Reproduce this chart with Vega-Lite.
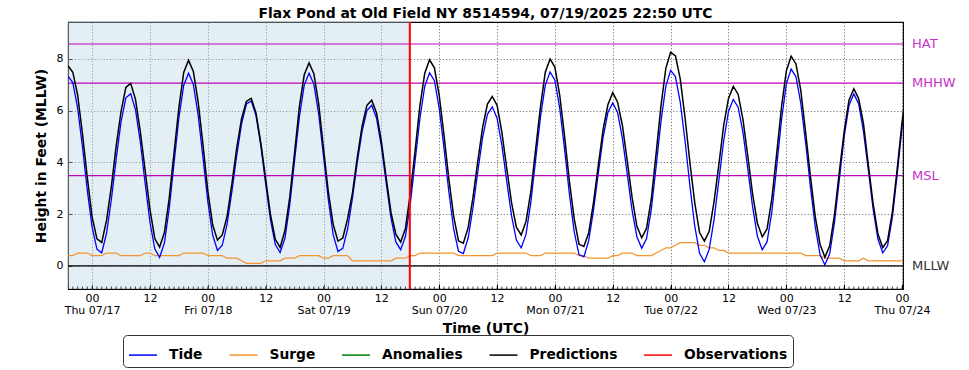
{
  "$schema": "https://vega.github.io/schema/vega-lite/v6.json",
  "width": 835,
  "height": 267,
  "autosize": {"type": "none"},
  "padding": {"left": 68, "top": 22, "right": 66, "bottom": 81},
  "background": "white",
  "title": {"text": "Flax Pond at Old Field NY 8514594, 07/19/2025 22:50 UTC", "font": "DejaVu Sans", "fontSize": 13.9, "fontWeight": "bold", "color": "black", "anchor": "middle", "offset": 0.5},
  "config": {
    "font": "DejaVu Sans",
    "view": {"stroke": "black", "strokeWidth": 1.1},
    "axis": {"domain": false, "labelFont": "DejaVu Sans", "labelFontSize": 11, "labelColor": "black", "titleFont": "DejaVu Sans", "titleFontSize": 13.9, "titleFontWeight": "bold", "titleColor": "black", "tickColor": "black", "tickWidth": 1, "gridColor": "#555555", "gridDash": [1.2, 2], "gridWidth": 0.8}
  },
  "datasets": {
    "series": [
      {"h":-5,"tide":7.34,"surge":0.4,"pred":7.74},
      {"h":-4,"tide":7.09,"surge":0.4,"pred":7.49},
      {"h":-3,"tide":6.10,"surge":0.5,"pred":6.60},
      {"h":-2,"tide":4.61,"surge":0.5,"pred":5.11},
      {"h":-1,"tide":2.93,"surge":0.5,"pred":3.43},
      {"h":0,"tide":1.50,"surge":0.4,"pred":1.90},
      {"h":1,"tide":0.65,"surge":0.4,"pred":1.05},
      {"h":2,"tide":0.51,"surge":0.4,"pred":0.91},
      {"h":3,"tide":1.27,"surge":0.5,"pred":1.77},
      {"h":4,"tide":2.58,"surge":0.5,"pred":3.08},
      {"h":5,"tide":4.15,"surge":0.5,"pred":4.65},
      {"h":6,"tide":5.57,"surge":0.4,"pred":5.97},
      {"h":7,"tide":6.50,"surge":0.4,"pred":6.90},
      {"h":8,"tide":6.66,"surge":0.4,"pred":7.06},
      {"h":9,"tide":6.04,"surge":0.4,"pred":6.44},
      {"h":10,"tide":4.79,"surge":0.4,"pred":5.19},
      {"h":11,"tide":3.20,"surge":0.5,"pred":3.70},
      {"h":12,"tide":1.69,"surge":0.5,"pred":2.19},
      {"h":13,"tide":0.66,"surge":0.4,"pred":1.06},
      {"h":14,"tide":0.33,"surge":0.4,"pred":0.73},
      {"h":15,"tide":0.89,"surge":0.4,"pred":1.29},
      {"h":16,"tide":2.22,"surge":0.4,"pred":2.62},
      {"h":17,"tide":3.98,"surge":0.4,"pred":4.38},
      {"h":18,"tide":5.72,"surge":0.4,"pred":6.12},
      {"h":19,"tide":6.98,"surge":0.5,"pred":7.48},
      {"h":20,"tide":7.45,"surge":0.5,"pred":7.95},
      {"h":21,"tide":7.02,"surge":0.5,"pred":7.52},
      {"h":22,"tide":5.83,"surge":0.5,"pred":6.33},
      {"h":23,"tide":4.19,"surge":0.5,"pred":4.69},
      {"h":24,"tide":2.50,"surge":0.4,"pred":2.90},
      {"h":25,"tide":1.20,"surge":0.4,"pred":1.60},
      {"h":26,"tide":0.60,"surge":0.4,"pred":1.00},
      {"h":27,"tide":0.80,"surge":0.4,"pred":1.20},
      {"h":28,"tide":1.62,"surge":0.3,"pred":1.92},
      {"h":29,"tide":2.88,"surge":0.3,"pred":3.18},
      {"h":30,"tide":4.27,"surge":0.3,"pred":4.57},
      {"h":31,"tide":5.49,"surge":0.2,"pred":5.69},
      {"h":32,"tide":6.26,"surge":0.1,"pred":6.36},
      {"h":33,"tide":6.38,"surge":0.1,"pred":6.48},
      {"h":34,"tide":5.81,"surge":0.1,"pred":5.91},
      {"h":35,"tide":4.65,"surge":0.1,"pred":4.75},
      {"h":36,"tide":3.17,"surge":0.2,"pred":3.37},
      {"h":37,"tide":1.78,"surge":0.2,"pred":1.98},
      {"h":38,"tide":0.83,"surge":0.2,"pred":1.03},
      {"h":39,"tide":0.52,"surge":0.2,"pred":0.72},
      {"h":40,"tide":1.07,"surge":0.3,"pred":1.37},
      {"h":41,"tide":2.36,"surge":0.3,"pred":2.66},
      {"h":42,"tide":4.08,"surge":0.3,"pred":4.38},
      {"h":43,"tide":5.77,"surge":0.4,"pred":6.17},
      {"h":44,"tide":6.99,"surge":0.4,"pred":7.39},
      {"h":45,"tide":7.45,"surge":0.4,"pred":7.85},
      {"h":46,"tide":7.03,"surge":0.4,"pred":7.43},
      {"h":47,"tide":5.87,"surge":0.4,"pred":6.27},
      {"h":48,"tide":4.24,"surge":0.3,"pred":4.54},
      {"h":49,"tide":2.56,"surge":0.3,"pred":2.86},
      {"h":50,"tide":1.21,"surge":0.4,"pred":1.61},
      {"h":51,"tide":0.56,"surge":0.4,"pred":0.96},
      {"h":52,"tide":0.68,"surge":0.4,"pred":1.08},
      {"h":53,"tide":1.43,"surge":0.4,"pred":1.83},
      {"h":54,"tide":2.62,"surge":0.2,"pred":2.82},
      {"h":55,"tide":3.99,"surge":0.2,"pred":4.19},
      {"h":56,"tide":5.20,"surge":0.2,"pred":5.40},
      {"h":57,"tide":6.01,"surge":0.2,"pred":6.21},
      {"h":58,"tide":6.21,"surge":0.2,"pred":6.41},
      {"h":59,"tide":5.71,"surge":0.2,"pred":5.91},
      {"h":60,"tide":4.62,"surge":0.2,"pred":4.82},
      {"h":61,"tide":3.21,"surge":0.2,"pred":3.41},
      {"h":62,"tide":1.86,"surge":0.2,"pred":2.06},
      {"h":63,"tide":0.93,"surge":0.3,"pred":1.23},
      {"h":64,"tide":0.63,"surge":0.3,"pred":0.93},
      {"h":65,"tide":1.15,"surge":0.3,"pred":1.45},
      {"h":66,"tide":2.40,"surge":0.4,"pred":2.80},
      {"h":67,"tide":4.06,"surge":0.4,"pred":4.46},
      {"h":68,"tide":5.71,"surge":0.5,"pred":6.21},
      {"h":69,"tide":6.95,"surge":0.5,"pred":7.45},
      {"h":70,"tide":7.47,"surge":0.5,"pred":7.97},
      {"h":71,"tide":7.16,"surge":0.5,"pred":7.66},
      {"h":72,"tide":6.09,"surge":0.5,"pred":6.59},
      {"h":73,"tide":4.54,"surge":0.5,"pred":5.04},
      {"h":74,"tide":2.86,"surge":0.5,"pred":3.36},
      {"h":75,"tide":1.42,"surge":0.5,"pred":1.92},
      {"h":76,"tide":0.57,"surge":0.4,"pred":0.97},
      {"h":77,"tide":0.48,"surge":0.4,"pred":0.88},
      {"h":78,"tide":1.08,"surge":0.4,"pred":1.48},
      {"h":79,"tide":2.24,"surge":0.4,"pred":2.64},
      {"h":80,"tide":3.65,"surge":0.4,"pred":4.05},
      {"h":81,"tide":4.96,"surge":0.4,"pred":5.36},
      {"h":82,"tide":5.86,"surge":0.4,"pred":6.26},
      {"h":83,"tide":6.15,"surge":0.4,"pred":6.55},
      {"h":84,"tide":5.71,"surge":0.5,"pred":6.21},
      {"h":85,"tide":4.66,"surge":0.5,"pred":5.16},
      {"h":86,"tide":3.28,"surge":0.5,"pred":3.78},
      {"h":87,"tide":1.95,"surge":0.5,"pred":2.45},
      {"h":88,"tide":1.00,"surge":0.5,"pred":1.50},
      {"h":89,"tide":0.70,"surge":0.5,"pred":1.20},
      {"h":90,"tide":1.22,"surge":0.5,"pred":1.72},
      {"h":91,"tide":2.46,"surge":0.4,"pred":2.86},
      {"h":92,"tide":4.11,"surge":0.4,"pred":4.51},
      {"h":93,"tide":5.75,"surge":0.4,"pred":6.15},
      {"h":94,"tide":6.99,"surge":0.5,"pred":7.49},
      {"h":95,"tide":7.50,"surge":0.5,"pred":8.00},
      {"h":96,"tide":7.18,"surge":0.5,"pred":7.68},
      {"h":97,"tide":6.09,"surge":0.5,"pred":6.59},
      {"h":98,"tide":4.51,"surge":0.5,"pred":5.01},
      {"h":99,"tide":2.78,"surge":0.5,"pred":3.28},
      {"h":100,"tide":1.32,"surge":0.5,"pred":1.82},
      {"h":101,"tide":0.44,"surge":0.4,"pred":0.84},
      {"h":102,"tide":0.35,"surge":0.4,"pred":0.75},
      {"h":103,"tide":0.97,"surge":0.3,"pred":1.27},
      {"h":104,"tide":2.15,"surge":0.3,"pred":2.45},
      {"h":105,"tide":3.59,"surge":0.3,"pred":3.89},
      {"h":106,"tide":4.98,"surge":0.3,"pred":5.28},
      {"h":107,"tide":5.94,"surge":0.3,"pred":6.24},
      {"h":108,"tide":6.30,"surge":0.4,"pred":6.70},
      {"h":109,"tide":5.93,"surge":0.4,"pred":6.33},
      {"h":110,"tide":4.93,"surge":0.5,"pred":5.43},
      {"h":111,"tide":3.56,"surge":0.5,"pred":4.06},
      {"h":112,"tide":2.16,"surge":0.5,"pred":2.66},
      {"h":113,"tide":1.13,"surge":0.4,"pred":1.53},
      {"h":114,"tide":0.69,"surge":0.4,"pred":1.09},
      {"h":115,"tide":1.05,"surge":0.4,"pred":1.45},
      {"h":116,"tide":2.20,"surge":0.4,"pred":2.60},
      {"h":117,"tide":3.86,"surge":0.5,"pred":4.36},
      {"h":118,"tide":5.59,"surge":0.6,"pred":6.19},
      {"h":119,"tide":6.94,"surge":0.7,"pred":7.64},
      {"h":120,"tide":7.56,"surge":0.7,"pred":8.26},
      {"h":121,"tide":7.32,"surge":0.8,"pred":8.12},
      {"h":122,"tide":6.32,"surge":0.9,"pred":7.22},
      {"h":123,"tide":4.82,"surge":0.9,"pred":5.72},
      {"h":124,"tide":3.10,"surge":0.9,"pred":4.00},
      {"h":125,"tide":1.55,"surge":0.9,"pred":2.45},
      {"h":126,"tide":0.49,"surge":0.8,"pred":1.29},
      {"h":127,"tide":0.16,"surge":0.8,"pred":0.96},
      {"h":128,"tide":0.64,"surge":0.7,"pred":1.34},
      {"h":129,"tide":1.78,"surge":0.7,"pred":2.48},
      {"h":130,"tide":3.31,"surge":0.6,"pred":3.91},
      {"h":131,"tide":4.83,"surge":0.6,"pred":5.43},
      {"h":132,"tide":5.97,"surge":0.5,"pred":6.47},
      {"h":133,"tide":6.44,"surge":0.5,"pred":6.94},
      {"h":134,"tide":6.14,"surge":0.5,"pred":6.64},
      {"h":135,"tide":5.17,"surge":0.5,"pred":5.67},
      {"h":136,"tide":3.76,"surge":0.5,"pred":4.26},
      {"h":137,"tide":2.29,"surge":0.5,"pred":2.79},
      {"h":138,"tide":1.15,"surge":0.5,"pred":1.65},
      {"h":139,"tide":0.63,"surge":0.5,"pred":1.13},
      {"h":140,"tide":0.93,"surge":0.5,"pred":1.43},
      {"h":141,"tide":2.10,"surge":0.5,"pred":2.60},
      {"h":142,"tide":3.84,"surge":0.5,"pred":4.34},
      {"h":143,"tide":5.64,"surge":0.5,"pred":6.14},
      {"h":144,"tide":7.04,"surge":0.5,"pred":7.54},
      {"h":145,"tide":7.61,"surge":0.5,"pred":8.11},
      {"h":146,"tide":7.31,"surge":0.5,"pred":7.81},
      {"h":147,"tide":6.29,"surge":0.5,"pred":6.79},
      {"h":148,"tide":4.77,"surge":0.4,"pred":5.17},
      {"h":149,"tide":3.06,"surge":0.4,"pred":3.46},
      {"h":150,"tide":1.51,"surge":0.4,"pred":1.91},
      {"h":151,"tide":0.43,"surge":0.4,"pred":0.83},
      {"h":152,"tide":0.04,"surge":0.3,"pred":0.34},
      {"h":153,"tide":0.48,"surge":0.3,"pred":0.78},
      {"h":154,"tide":1.69,"surge":0.3,"pred":1.99},
      {"h":155,"tide":3.35,"surge":0.3,"pred":3.65},
      {"h":156,"tide":5.00,"surge":0.2,"pred":5.20},
      {"h":157,"tide":6.21,"surge":0.2,"pred":6.41},
      {"h":158,"tide":6.65,"surge":0.2,"pred":6.85},
      {"h":159,"tide":6.27,"surge":0.2,"pred":6.47},
      {"h":160,"tide":5.20,"surge":0.3,"pred":5.50},
      {"h":161,"tide":3.72,"surge":0.2,"pred":3.92},
      {"h":162,"tide":2.21,"surge":0.2,"pred":2.41},
      {"h":163,"tide":1.04,"surge":0.2,"pred":1.24},
      {"h":164,"tide":0.51,"surge":0.2,"pred":0.71},
      {"h":165,"tide":0.78,"surge":0.2,"pred":0.98},
      {"h":166,"tide":1.89,"surge":0.2,"pred":2.09},
      {"h":167,"tide":3.55,"surge":0.2,"pred":3.75},
      {"h":168,"tide":5.35,"surge":0.2,"pred":5.55},
      {"h":169,"tide":6.81,"surge":0.2,"pred":7.01}
    ]
  },
  "layer": [
    {
      "data": {"values": [{"start": -5, "end": 65.9}]},
      "mark": {"type": "rect", "fill": "#bcd5e6", "opacity": 0.4},
      "encoding": {
        "x": {"field": "start", "type": "quantitative", "title": "Time (UTC)", "scale": {"domain": [-5, 168.2], "nice": false, "zero": false}},
        "x2": {"field": "end"},
        "y": {"datum": -0.89, "type": "quantitative", "title": "Height in Feet (MLLW)", "scale": {"domain": [-0.89, 9.43], "nice": false, "zero": false}},
        "y2": {"datum": 9.43}
      }
    },
    {
      "data": {"values": [{"name": "HAT", "level": 8.58}, {"name": "MHHW", "level": 7.07}, {"name": "MSL", "level": 3.49}, {"name": "MLLW", "level": 0}]},
      "layer": [
        {
          "mark": {"type": "rule", "strokeWidth": 1.2},
          "encoding": {
            "y": {"field": "level", "type": "quantitative", "title": "Height in Feet (MLLW)", "scale": {"domain": [-0.89, 9.43], "nice": false, "zero": false}},
            "stroke": {"condition": {"test": "datum.name === 'MLLW'", "value": "#000000"}, "value": "#bf00bf"}
          }
        },
        {
          "mark": {"type": "text", "align": "left", "baseline": "middle", "dx": 9, "font": "DejaVu Sans", "fontSize": 13, "clip": false},
          "encoding": {
            "x": {"datum": 168.2, "type": "quantitative", "title": "Time (UTC)", "scale": {"domain": [-5, 168.2], "nice": false, "zero": false}},
            "y": {"field": "level", "type": "quantitative", "title": "Height in Feet (MLLW)", "scale": {"domain": [-0.89, 9.43], "nice": false, "zero": false}},
            "text": {"field": "name"},
            "fill": {"condition": {"test": "datum.name === 'MLLW'", "value": "#333333"}, "value": "#c832c8"}
          }
        }
      ]
    },
    {
      "data": {"name": "series"},
      "mark": {"type": "tick", "orient": "vertical", "size": 5, "thickness": 1, "color": "black", "clip": true},
      "encoding": {
        "x": {"field": "h", "type": "quantitative", "title": "Time (UTC)", "scale": {"domain": [-5, 168.2], "nice": false, "zero": false}},
        "y": {"datum": -0.89, "type": "quantitative", "title": "Height in Feet (MLLW)", "scale": {"domain": [-0.89, 9.43], "nice": false, "zero": false}}
      }
    },
    {
      "data": {"name": "series"},
      "mark": {"type": "line", "strokeWidth": 1.3, "clip": true},
      "encoding": {
        "x": {"field": "h", "type": "quantitative", "title": "Time (UTC)", "scale": {"domain": [-5, 168.2], "nice": false, "zero": false}},
        "y": {"field": "surge", "type": "quantitative", "title": "Height in Feet (MLLW)", "scale": {"domain": [-0.89, 9.43], "nice": false, "zero": false}},
        "stroke": {"datum": "Surge", "type": "nominal"}
      }
    },
    {
      "data": {"name": "series"},
      "mark": {"type": "line", "strokeWidth": 1.3, "clip": true},
      "encoding": {
        "x": {"field": "h", "type": "quantitative", "title": "Time (UTC)", "scale": {"domain": [-5, 168.2], "nice": false, "zero": false},
          "axis": {
            "values": [0, 12, 24, 36, 48, 60, 72, 84, 96, 108, 120, 132, 144, 156, 168],
            "labelExpr": "datum.value % 24 === 0 ? ['00', ['Thu 07/17','Fri 07/18','Sat 07/19','Sun 07/20','Mon 07/21','Tue 07/22','Wed 07/23','Thu 07/24'][datum.value / 24]] : '12'",
            "labelFlush": false,
            "labelOverlap": false,
            "labelBound": false,
            "labelAlign": "center",
            "labelBaseline": "top",
            "labelLineHeight": 12.5,
            "labelPadding": 8,
            "tickSize": -5,
            "grid": true,
            "titlePadding": 6
          }
        },
        "y": {"field": "tide", "type": "quantitative", "title": "Height in Feet (MLLW)", "scale": {"domain": [-0.89, 9.43], "nice": false, "zero": false},
          "axis": {"values": [0, 2, 4, 6, 8], "tickSize": -4, "labelPadding": 9, "grid": true, "titlePadding": 8}
        },
        "stroke": {"datum": "Tide", "type": "nominal",
          "scale": {"domain": ["Tide", "Surge", "Anomalies", "Predictions", "Observations"], "range": ["#0000ff", "#f2952f", "#008000", "#000000", "#ff0000"]},
          "legend": {"orient": "none", "legendX": 55, "legendY": 313, "direction": "horizontal", "columns": 5, "title": null,
            "symbolType": "stroke", "symbolSize": 784, "symbolStrokeWidth": 1.5,
            "labelFont": "DejaVu Sans", "labelFontSize": 13.8, "labelFontWeight": "bold", "labelColor": "black", "labelOffset": 11,
            "columnPadding": 23.5, "padding": 5, "strokeColor": "#333333", "fillColor": "white", "cornerRadius": 4}
        }
      }
    },
    {
      "data": {"name": "series"},
      "mark": {"type": "line", "strokeWidth": 1.5, "clip": true},
      "encoding": {
        "x": {"field": "h", "type": "quantitative", "title": "Time (UTC)", "scale": {"domain": [-5, 168.2], "nice": false, "zero": false}},
        "y": {"field": "pred", "type": "quantitative", "title": "Height in Feet (MLLW)", "scale": {"domain": [-0.89, 9.43], "nice": false, "zero": false}},
        "stroke": {"datum": "Predictions", "type": "nominal"}
      }
    },
    {
      "data": {"values": [{"t": 65.9}]},
      "mark": {"type": "rule", "stroke": "#ff0000", "strokeWidth": 2},
      "encoding": {
        "x": {"field": "t", "type": "quantitative", "title": "Time (UTC)", "scale": {"domain": [-5, 168.2], "nice": false, "zero": false}}
      }
    }
  ]
}
